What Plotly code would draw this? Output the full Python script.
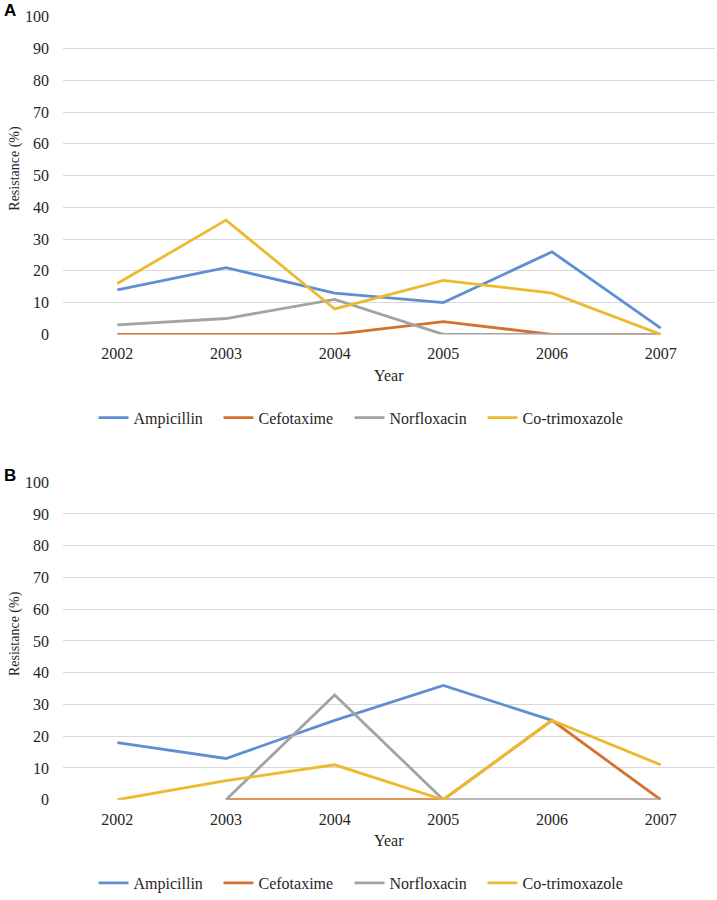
import plotly.graph_objects as go

years = ["2002", "2003", "2004", "2005", "2006", "2007"]
series_names = ["Ampicillin", "Cefotaxime", "Norfloxacin", "Co-trimoxazole"]
colors = ["#5F8FD3", "#D2722E", "#A3A3A3", "#EBBA2E"]

# Panel A
a_ampicillin = [14, 21, 13, 10, 26, 2]
a_cefotaxime = [0, 0, 0, 4, 0, 0]
a_norfloxacin = [3, 5, 11, 0, 0, 0]
a_cotrimoxazole = [16, 36, 8, 17, 13, 0]

# Panel B
b_ampicillin = [18, 13, 25, 36, 25, None]
b_cefotaxime = [None, 0, 0, 0, 25, 0]
b_norfloxacin = [None, 0, 33, 0, 0, 0]
b_cotrimoxazole = [0, 6, 11, 0, 25, 11]

y_ticks = list(range(0, 101, 10))

W, H = 717, 900
def X(px):
    return px / W
def Y(px):
    return 1 - px / H

DY = 469  # vertical offset of panel B relative to panel A

fig = go.Figure()

legend_widths = [80, 86, 88, 100]
panels = [
    ("x", "y", "legend", [a_ampicillin, a_cefotaxime, a_norfloxacin, a_cotrimoxazole]),
    ("x2", "y2", "legend2", [b_ampicillin, b_cefotaxime, b_norfloxacin, b_cotrimoxazole]),
]
for xa, ya, lg, data in panels:
    for name, vals, col, lw in zip(series_names, data, colors, legend_widths):
        fig.add_trace(go.Scatter(
            x=years, y=vals, mode="lines", name=name, xaxis=xa, yaxis=ya,
            line=dict(color=col, width=2.8), legend=lg, connectgaps=False,
            legendwidth=lw,
        ))

font_serif = "Liberation Serif, Times New Roman, serif"
grid = "#D9D9D9"
txt = "#262626"

xdom = [X(63), X(715)]
yA = [Y(337), Y(17)]
yB = [Y(337 + DY), Y(17 + DY)]

common_x = dict(
    type="category", range=[-0.5, 5.5], showgrid=False, showline=False, zeroline=False,
    ticks="", tickfont=dict(family=font_serif, size=16, color=txt),
    ticklabelstandoff=8, fixedrange=True, automargin=False, domain=xdom,
)
common_y = dict(
    range=[0, 100], tickvals=y_ticks, showgrid=True, gridcolor=grid, gridwidth=1,
    zeroline=False, showline=False, ticks="",
    tickfont=dict(family=font_serif, size=16, color=txt),
    ticklabelstandoff=13, automargin=False, fixedrange=True,
)

legend_common = dict(orientation="h", x=X(93.5), xanchor="left", yanchor="middle",
                     font=dict(family=font_serif, size=16, color=txt),
                     itemwidth=30, bgcolor="rgba(0,0,0,0)")

fig.update_layout(
    width=W, height=H,
    margin=dict(l=0, r=0, t=0, b=0),
    paper_bgcolor="white", plot_bgcolor="white",
    xaxis=dict(common_x, anchor="y"),
    yaxis=dict(common_y, domain=yA, anchor="x"),
    xaxis2=dict(common_x, anchor="y2"),
    yaxis2=dict(common_y, domain=yB, anchor="x2"),
    legend=dict(legend_common, y=Y(421)),
    legend2=dict(legend_common, y=Y(421 + DY)),
    showlegend=True,
)

annotations = []
for k, lab in enumerate(["A", "B"]):
    d = k * DY
    annotations += [
        dict(text="<b>" + lab + "</b>", x=X(2), y=Y(10.5 + d), xanchor="left", yanchor="middle",
             font=dict(family="Liberation Sans, Arial, sans-serif", size=17, color="black")),
        dict(text="Year", x=X((63 + 715) / 2), y=Y(378 + d), xanchor="center", yanchor="middle",
             font=dict(family=font_serif, size=16, color=txt)),
        dict(text="Resistance (%)", x=X(15), y=Y(170 + d), xanchor="center", yanchor="middle",
             textangle=-90, font=dict(family=font_serif, size=14, color=txt)),
    ]
for a in annotations:
    a.update(xref="paper", yref="paper", showarrow=False)
fig.update_layout(annotations=annotations)

fig.write_html("out.html", config={"displayModeBar": False},
               post_script="document.body.style.margin='0px';")
